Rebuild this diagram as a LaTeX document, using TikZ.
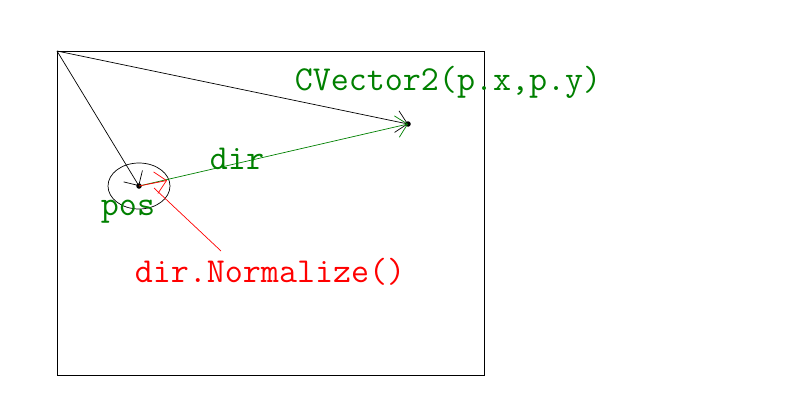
\documentclass[tikz,border=0pt]{standalone}
\usetikzlibrary{arrows.meta,positioning,shapes}
\definecolor{codegreen}{RGB}{0,128,0}
\tikzset{
    vec/.style={
        -{Straight Barb[length=11pt,width=22pt]},
        line width=0.7pt
    },
    dot/.style={
        circle,
        fill=black,
        inner sep=0pt,
        minimum size=5.5pt
    },
    codetext/.style={
        font=\ttfamily\fontsize{35}{35}\selectfont,
        inner sep=0pt
    },
}
\begin{document}
\begin{tikzpicture}[x=1pt, y=-1pt]
    \useasboundingbox (0,0) rectangle (789,415);
    % frame
    \draw[line width=0.7pt] (57,51) rectangle (484,375);
    \coordinate (corner) at (57,51);

    % points
    \node[dot] (pos) at (139,186) {};
    \node[dot] (target) at (408,124) {};
    \coordinate (unit) at (167,180.5);
    \coordinate (callout) at (221,251);
    \draw[line width=0.7pt] (pos.center) ellipse [x radius=31, y radius=23];

    % labels
    \node[codetext, codegreen] (targetlabel) at (448,82) {CVector2(p.x,p.y)};
    \node[codetext, codegreen] (dirlabel) at (237,159) {dir};
    \node[codetext, codegreen] (poslabel) at (128,212) {pos};
    \node[codetext, red] (normlabel) at (270,272) {dir.Normalize()};

    % lines
    \draw[vec] (corner) -- (target.center);
    \draw[vec] (corner) -- (pos.center);
    \draw[vec, codegreen] (pos.center) -- (target.center);
    \draw[vec, red] (pos.center) -- (unit);
    \draw[red, line width=0.7pt] (callout) -- (154,188);
\end{tikzpicture}
\end{document}
